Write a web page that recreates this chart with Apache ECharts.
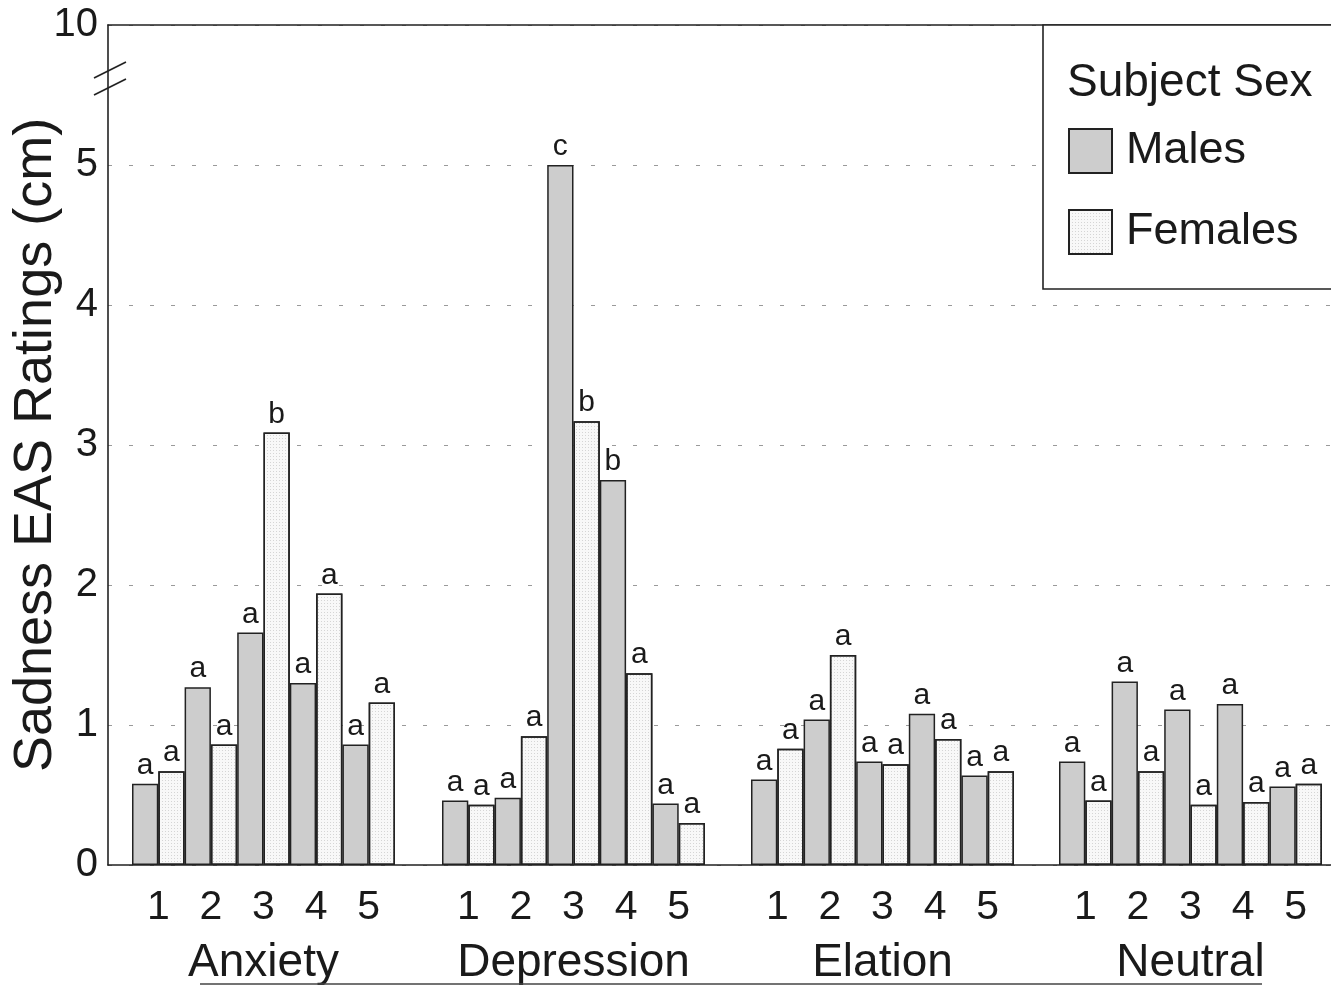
<!DOCTYPE html>
<html>
<head>
<meta charset="utf-8">
<script src="https://cdn.jsdelivr.net/npm/echarts@6/dist/echarts.min.js"></script>
<style>html,body{margin:0;padding:0;background:#fff;}#c{width:1331px;height:985px;}#err{position:absolute;left:10px;top:10px;font:14px monospace;color:red;white-space:pre;}</style>
</head>
<body>
<div id="c"></div>
<div id="err"></div>
<script>
const groups = ['Anxiety', 'Depression', 'Elation', 'Neutral'];
const levels = ['1', '2', '3', '4', '5'];
const yTickValues = [0, 1, 2, 3, 4, 5, 6];
const yTickLabels = ['0', '1', '2', '3', '4', '5', '10'];

const anxietyMales = [0.58, 1.27, 1.66, 1.30, 0.86];
const anxietyFemales = [0.67, 0.86, 3.09, 1.94, 1.16];
const depressionMales = [0.46, 0.48, 5.00, 2.75, 0.44];
const depressionFemales = [0.43, 0.92, 3.17, 1.37, 0.30];
const elationMales = [0.61, 1.04, 0.74, 1.08, 0.64];
const elationFemales = [0.83, 1.50, 0.72, 0.90, 0.67];
const neutralMales = [0.74, 1.31, 1.11, 1.15, 0.56];
const neutralFemales = [0.46, 0.67, 0.43, 0.45, 0.58];

const anxietyMaleLetters = ['a', 'a', 'a', 'a', 'a'];
const anxietyFemaleLetters = ['a', 'a', 'b', 'a', 'a'];
const depressionMaleLetters = ['a', 'a', 'c', 'b', 'a'];
const depressionFemaleLetters = ['a', 'a', 'b', 'a', 'a'];
const elationMaleLetters = ['a', 'a', 'a', 'a', 'a'];
const elationFemaleLetters = ['a', 'a', 'a', 'a', 'a'];
const neutralMaleLetters = ['a', 'a', 'a', 'a', 'a'];
const neutralFemaleLetters = ['a', 'a', 'a', 'a', 'a'];

const maleValues = [anxietyMales, depressionMales, elationMales, neutralMales];
const femaleValues = [anxietyFemales, depressionFemales, elationFemales, neutralFemales];
const maleLetters = [anxietyMaleLetters, depressionMaleLetters, elationMaleLetters, neutralMaleLetters];
const femaleLetters = [anxietyFemaleLetters, depressionFemaleLetters, elationFemaleLetters, neutralFemaleLetters];

const FONT = "'Liberation Sans', Arial, Helvetica, sans-serif";
const W = 1331, H = 985;
const TOP = 25, BOTTOM = 120, LEFT = 108;
const groupLefts = [132, 442, 751, 1059];
const groupWidth = 263;

try {
const chart = echarts.init(document.getElementById('c'), null, {renderer: 'canvas'});

const grids = [{left: LEFT, right: 0, top: TOP, bottom: BOTTOM, outerBoundsMode: 'none', containLabel: false}];
const xAxes = [
  {gridIndex: 0, type: 'value', min: 0, max: 1, position: 'bottom',
   axisLine: {show: true, lineStyle: {color: '#222', width: 1.6}},
   axisTick: {show: false}, axisLabel: {show: false}, splitLine: {show: false}},
  {gridIndex: 0, type: 'value', min: 0, max: 1, position: 'top',
   axisLine: {show: true, lineStyle: {color: '#222', width: 1.6}},
   axisTick: {show: false}, axisLabel: {show: false}, splitLine: {show: false}}
];
const yAxes = [
  {gridIndex: 0, type: 'value', min: 0, max: 6, interval: 1,
   name: 'Sadness EAS Ratings (cm)', nameLocation: 'middle', nameGap: 45, nameMoveOverlap: false,
   nameTextStyle: {fontFamily: FONT, fontSize: 54, color: '#1a1a1a'},
   axisLine: {show: true, lineStyle: {color: '#222', width: 1.6}},
   axisTick: {show: false},
   axisLabel: {fontFamily: FONT, fontSize: 40, color: '#1a1a1a', margin: 10,
     formatter: function (v) { const i = yTickValues.indexOf(v); return i >= 0 ? yTickLabels[i] : ''; }},
   splitLine: {show: true, lineStyle: {color: '#9a9a9a', type: [4, 17], width: 1.2}}
  }
];
const series = [];

groups.forEach(function (g, gi) {
  const gIdx = gi + 1;
  const xIdx = xAxes.length;
  const yIdx = yAxes.length;
  grids.push({left: groupLefts[gi], width: groupWidth, top: TOP, bottom: BOTTOM, outerBoundsMode: 'none', containLabel: false});
  xAxes.push({gridIndex: gIdx, type: 'category', data: levels,
    name: g, nameLocation: 'middle', nameGap: 75,
    nameTextStyle: {fontFamily: FONT, fontSize: 46, color: '#1a1a1a'},
    axisLine: {show: false}, axisTick: {show: false},
    axisLabel: {fontFamily: FONT, fontSize: 41, color: '#1a1a1a', margin: 22}});
  yAxes.push({gridIndex: gIdx, type: 'value', min: 0, max: 6, interval: 1, show: false,
    splitLine: {show: false}});
  const labelStyle = {show: true, position: 'top', distance: 3, fontFamily: FONT, fontSize: 30, color: '#1a1a1a'};
  series.push({
    name: 'Males', type: 'bar', xAxisIndex: xIdx, yAxisIndex: yIdx,
    data: maleValues[gi], barGap: '0%', barCategoryGap: '0%',
    itemStyle: {color: '#cdcdcd', borderColor: '#222', borderWidth: 1.5},
    label: Object.assign({}, labelStyle, {formatter: function (p) { return maleLetters[gi][p.dataIndex]; }})
  });
  series.push({
    name: 'Females', type: 'bar', xAxisIndex: xIdx, yAxisIndex: yIdx,
    data: femaleValues[gi], barGap: '0%', barCategoryGap: '0%',
    itemStyle: {color: '#f8f8f8', borderColor: '#222', borderWidth: 1.5,
      decal: {symbol: 'rect', symbolSize: 1, dashArrayX: [1, 2], dashArrayY: [1, 2], color: 'rgba(0,0,0,0.14)'}},
    label: Object.assign({}, labelStyle, {formatter: function (p) { return femaleLetters[gi][p.dataIndex]; }})
  });
});

const plotH = H - TOP - BOTTOM;
const breakY = TOP + plotH * (1 - 5.6 / 6);
const baseY = H - BOTTOM;

chart.setOption({
  animation: false,
  backgroundColor: '#ffffff',
  grid: grids,
  xAxis: xAxes,
  yAxis: yAxes,
  series: series,
  title: {text: 'Subject Sex', left: 1067, top: 60, z: 60, padding: 0,
    textStyle: {fontFamily: FONT, fontSize: 46, fontWeight: 'normal', color: '#1a1a1a'}},
  legend: {data: ['Males', 'Females'], orient: 'vertical', left: 1068, top: 128, z: 60,
    icon: 'rect', itemWidth: 43, itemHeight: 44, itemGap: 35, padding: 0,
    textStyle: {fontFamily: FONT, fontSize: 45, color: '#1a1a1a', padding: [16, 0, 0, 9]}},
  graphic: [
    {type: 'rect', z: 50, shape: {x: 1043, y: TOP, width: 320, height: 264},
     style: {fill: '#ffffff', stroke: '#222', lineWidth: 1.6}},
    {type: 'line', z: 40, shape: {x1: LEFT - 14, y1: breakY - 3, x2: LEFT + 18, y2: breakY - 19},
     style: {stroke: '#222', lineWidth: 1.6}},
    {type: 'line', z: 40, shape: {x1: LEFT - 14, y1: breakY + 14, x2: LEFT + 18, y2: breakY - 2},
     style: {stroke: '#222', lineWidth: 1.6}},
    {type: 'line', z: 40, shape: {x1: 200, y1: baseY + 119, x2: 1262, y2: baseY + 119},
     style: {stroke: '#444', lineWidth: 1.4}}
  ]
});
} catch (e) {
  document.getElementById('err').textContent = String(e && e.stack || e);
}
</script>
</body>
</html>
